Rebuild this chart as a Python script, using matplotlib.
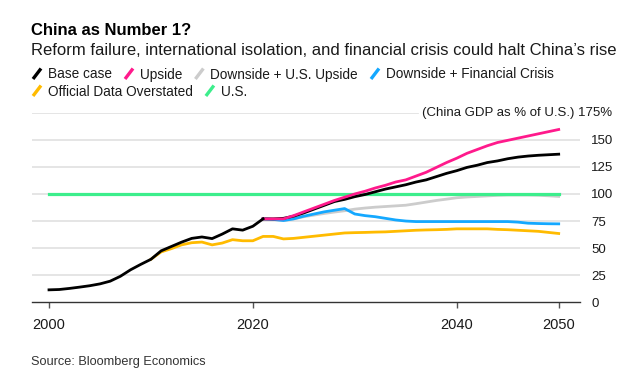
import matplotlib
matplotlib.use("Agg")
import matplotlib.pyplot as plt
from matplotlib.lines import Line2D

plt.rcParams['font.family'] = ['Liberation Sans', 'DejaVu Sans']

# ---------------- data ----------------
hist_years = list(range(2000, 2022))
hist_base = [11.5, 11.8, 12.8, 14.0, 15.3, 17.0, 19.5, 24.0, 30.0, 35.0, 39.7,
             47.5, 51.5, 55.5, 59.0, 60.3, 58.8, 63.0, 67.8, 66.6, 70.2, 77.0]

proj_years = list(range(2021, 2051))
base_proj = [77.0, 77.0, 77.5, 79.5, 82.5, 86.0, 89.5, 93.0, 95.0, 97.5, 99.5,
             102.0, 104.5, 106.5, 108.5, 111.0, 113.0, 116.0, 119.0, 121.5, 124.5,
             126.5, 129.0, 130.5, 132.5, 134.0, 135.0, 135.7, 136.2, 136.7]
upside = [77.0, 77.0, 77.0, 80.0, 83.5, 87.0, 90.5, 94.0, 97.0, 100.0, 102.5,
          105.5, 108.0, 111.0, 113.0, 116.5, 120.0, 124.5, 129.0, 133.0, 137.5,
          141.0, 144.5, 147.5, 149.5, 151.5, 153.5, 155.5, 157.5, 159.5]
down_us_upside = [77.0, 76.5, 75.5, 77.0, 79.0, 80.5, 82.0, 83.3, 84.5, 86.0, 87.0,
                  87.8, 88.4, 89.0, 89.6, 91.0, 92.5, 94.0, 95.2, 96.5, 97.2,
                  97.7, 98.2, 98.7, 99.0, 99.0, 99.0, 98.8, 98.3, 97.7]
down_fin_crisis = [77.0, 76.5, 75.5, 77.0, 79.5, 81.5, 83.5, 85.0, 86.5, 81.5, 80.0,
                   79.0, 77.5, 76.0, 75.0, 74.5, 74.5, 74.5, 74.5, 74.5, 74.5,
                   74.5, 74.5, 74.5, 74.5, 74.0, 73.0, 72.7, 72.5, 72.4]

official_years = list(range(2010, 2051))
official_overstated = [39.7, 46.5, 49.5, 53.0, 55.0, 55.6, 53.0, 54.7, 57.8, 56.8,
                       56.8, 60.8, 60.8, 58.5, 59.0, 60.0, 61.0, 62.0, 63.0, 64.0,
                       64.3, 64.5, 64.8, 65.0, 65.5, 66.0, 66.5, 66.8, 67.0, 67.3,
                       67.8, 67.8, 67.8, 67.8, 67.3, 67.0, 66.5, 66.0, 65.5, 64.5, 63.5]

us_years = [2000, 2050]
us_level = [100, 100]

y_ticks = [0, 25, 50, 75, 100, 125, 150]
x_ticks = [2000, 2020, 2040, 2050]

labels = ["Base case", "Upside", "Downside + U.S. Upside",
          "Downside + Financial Crisis", "Official Data Overstated", "U.S."]
colors = ["#000000", "#ff1a8c", "#cccccc", "#14a8ff", "#ffbb00", "#3cee8c"]

# ---------------- figure ----------------
W, H = 640, 374
fig = plt.figure(figsize=(W / 100, H / 100), dpi=100)
ax_left, ax_right = 32, 580
ax_top, ax_bot = 112.7, 302.3
ax = fig.add_axes([ax_left / W, (H - ax_bot) / H,
                   (ax_right - ax_left) / W, (ax_bot - ax_top) / H])

ppy = (558.7 - 49) / 50.0
ax.set_xlim(2000 - (49 - ax_left) / ppy, 2050 + (ax_right - 558.7) / ppy)
ax.set_ylim(0, 175)

# grid
for v in y_ticks[1:]:
    ax.axhline(v, color="#e3e3e3", lw=1.3, zorder=0)
ax.axhline(175, xmin=0, xmax=(418 - ax_left) / (ax_right - ax_left),
           color="#e3e3e3", lw=1.3, zorder=0)

lw = 2.0
ax.plot(proj_years, down_us_upside, color=colors[2], lw=lw, zorder=2)
ax.plot(official_years, official_overstated, color=colors[4], lw=lw, zorder=2)
ax.plot(us_years, us_level, color=colors[5], lw=2.3, zorder=3)
ax.plot(proj_years, down_fin_crisis, color=colors[3], lw=lw, zorder=4)
ax.plot(hist_years, hist_base, color=colors[0], lw=lw, zorder=6)
ax.plot(proj_years, base_proj, color=colors[0], lw=lw, zorder=4)
ax.plot(proj_years, upside, color=colors[1], lw=lw, zorder=5)

for s in ["top", "right", "left"]:
    ax.spines[s].set_visible(False)
ax.spines["bottom"].set_color("#333333")
ax.spines["bottom"].set_linewidth(1.0)

ax.set_xticks(x_ticks)
ax.set_xticklabels([str(x) for x in x_ticks])
ax.tick_params(axis="x", direction="out", length=4, width=1, color="#555555",
               labelsize=10.5, pad=7, labelcolor="#1a1a1a")

ax.yaxis.tick_right()
ax.set_yticks(y_ticks)
ax.set_yticklabels([str(v) for v in y_ticks])
ax.tick_params(axis="y", length=0, labelsize=9.5, pad=8, labelcolor="#1a1a1a")

fig.text(612 / W, (H - 113) / H, "(China GDP as % of U.S.) 175%",
         ha="right", va="center", fontsize=9.5, color="#1a1a1a")

# titles
fig.text(31 / W, (H - 35) / H, "China as Number 1?", fontsize=12.0,
         fontweight="bold", ha="left", va="baseline", color="#000000")
fig.text(31 / W, (H - 55) / H,
         "Reform failure, international isolation, and financial crisis could halt China\u2019s rise",
         fontsize=12.0, ha="left", va="baseline", color="#1a1a1a")

# legend (custom)
fig.canvas.draw()
renderer = fig.canvas.get_renderer()
rows = [[0, 1, 2, 3], [4, 5]]
baselines = [78.5, 95.5]
for row, base in zip(rows, baselines):
    x = 32.0
    for i in row:
        ln = Line2D([(x + 1) / W, (x + 9) / W],
                    [(H - base - 0.5) / H, (H - base + 10) / H],
                    transform=fig.transFigure, color=colors[i], lw=2.4,
                    solid_capstyle="butt")
        fig.add_artist(ln)
        t = fig.text((x + 16) / W, (H - base) / H, labels[i], fontsize=9.8,
                     ha="left", va="baseline", color="#1a1a1a")
        bb = t.get_window_extent(renderer)
        x = bb.x1 + 12

fig.text(31 / W, (H - 362) / H, "Source: Bloomberg Economics", fontsize=9.2,
         ha="left", va="center", color="#333333")

fig.savefig("out.png", dpi=100)
